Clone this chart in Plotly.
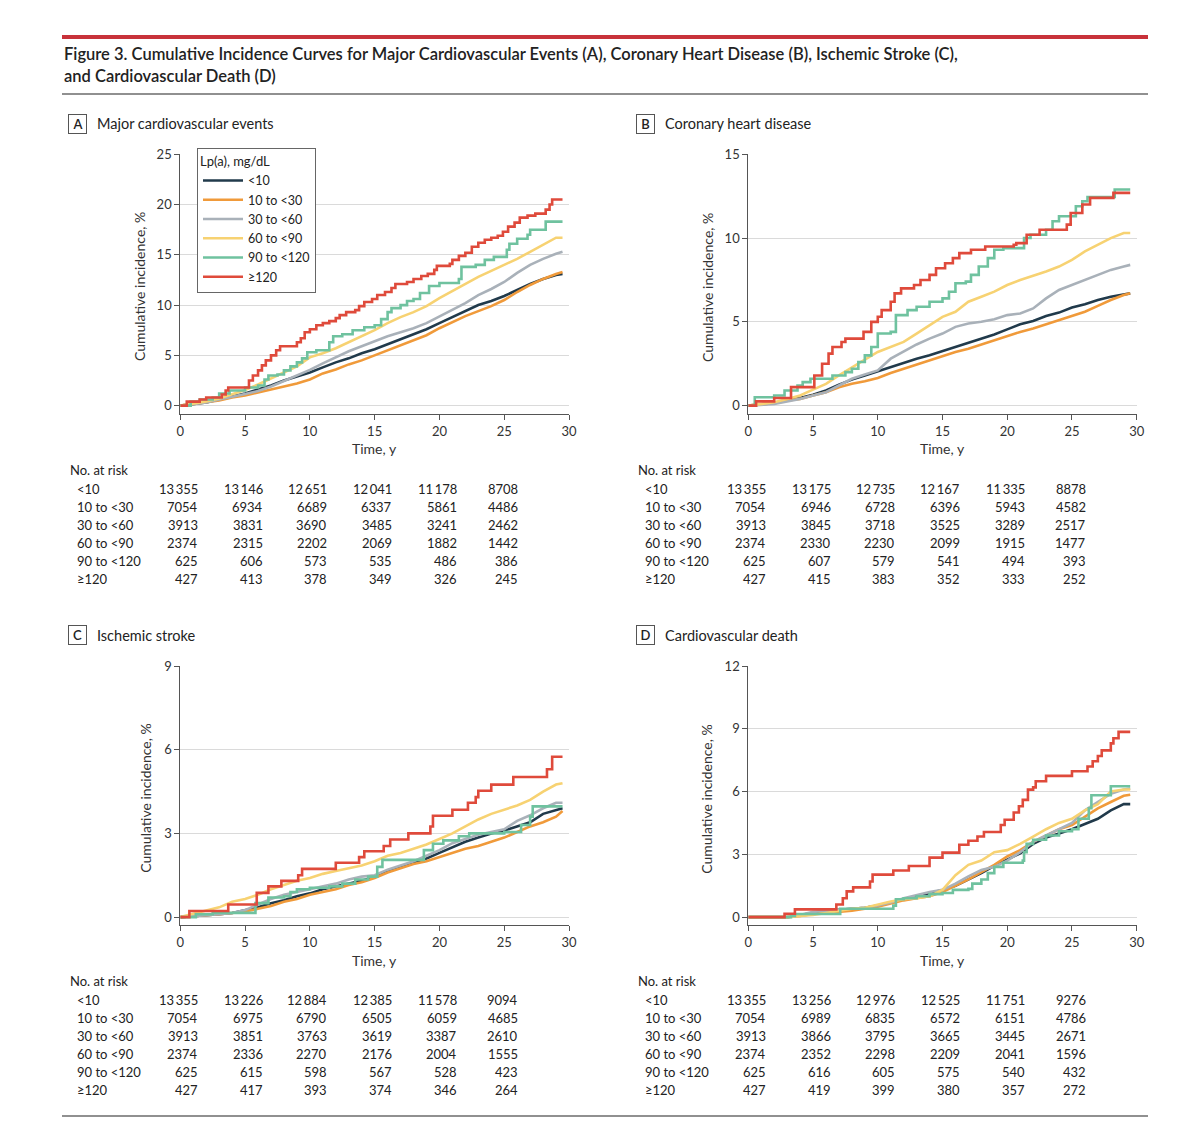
import plotly.graph_objects as go

GROUPS = ["<10", "10 to <30", "30 to <60", "60 to <90", "90 to <120", "≥120"]
COLORS = ["#213a4b", "#f09a3a", "#a9b1b9", "#f7d272", "#6fc29f", "#df4a3b"]

PANEL_LETTERS = ["A", "B", "C", "D"]
PANEL_TITLES = ["Major cardiovascular events", "Coronary heart disease",
                "Ischemic stroke", "Cardiovascular death"]
Y_MAX = [25, 15, 9, 12]
Y_DTICK = [5, 5, 3, 3]

# time grid for the large groups (smooth curves)
GRID_T = [0, 2, 3, 4, 5, 6, 7, 8, 9, 10, 11, 12, 13, 14, 15, 16, 17, 18, 19, 20,
          21, 22, 23, 24, 25, 26, 27, 28, 29, 29.5]

# A - major cardiovascular events
A_LT10 = [0, 0.3, 0.6, 0.9, 1.2, 1.6, 2.0, 2.5, 2.9, 3.3, 3.8, 4.3, 4.7, 5.2, 5.6,
          6.1, 6.6, 7.1, 7.6, 8.2, 8.8, 9.4, 10.0, 10.4, 10.9, 11.5, 12.1, 12.6, 13.0, 13.1]
A_10_30 = [0, 0.3, 0.5, 0.8, 1.0, 1.3, 1.6, 1.9, 2.2, 2.6, 3.2, 3.6, 4.1, 4.5, 5.0,
           5.5, 6.0, 6.5, 7.0, 7.7, 8.3, 8.9, 9.4, 9.9, 10.5, 11.3, 12.0, 12.6, 13.1, 13.3]
A_30_60 = [0, 0.3, 0.6, 0.85, 1.15, 1.45, 1.9, 2.45, 3.0, 3.55, 4.2, 4.8, 5.4, 5.9, 6.4,
           6.9, 7.3, 7.7, 8.2, 8.85, 9.5, 10.2, 11.0, 11.6, 12.3, 13.2, 14.0, 14.6, 15.1, 15.3]
A_60_90 = [0, 0.4, 0.7, 1.1, 1.55, 2.1, 2.7, 3.3, 3.9, 4.8, 5.2, 5.7, 6.3, 6.9, 7.5,
           8.2, 8.8, 9.3, 9.9, 10.7, 11.4, 12.1, 12.8, 13.4, 14.0, 14.6, 15.3, 16.0, 16.7, 16.7]
A_90_120 = [(0, 0), (0.8, 0.4), (1.5, 0.6), (2.5, 0.8), (3.0, 1.2), (3.8, 1.5), (5.0, 1.8),
            (6.0, 2.0), (6.5, 2.6), (6.8, 3.0), (7.5, 3.1), (8.0, 3.5), (8.5, 3.9), (9.0, 4.3),
            (9.4, 4.7), (9.8, 5.3), (10.5, 5.5), (11.5, 6.3), (11.8, 6.9), (12.5, 7.1),
            (13.3, 7.5), (14.2, 7.8), (15.0, 8.0), (15.5, 8.6), (16.0, 9.3), (16.3, 9.7),
            (17.0, 10.0), (17.5, 10.4), (18.0, 10.6), (18.5, 11.2), (19.2, 11.9), (20.0, 12.2),
            (21.5, 12.6), (21.7, 13.8), (22.8, 14.0), (23.5, 14.5), (24.2, 14.8), (25.2, 15.5),
            (25.4, 16.1), (26.0, 16.6), (26.8, 17.0), (27.0, 17.5), (28.2, 18.3), (29.5, 18.3)]
A_GE120 = [(0, 0), (0.5, 0.4), (1.5, 0.6), (2.0, 0.8), (3.2, 1.1), (3.5, 1.5), (3.7, 1.8),
           (5.3, 2.5), (5.6, 3.0), (6.0, 3.5), (6.3, 4.0), (6.6, 4.5), (7.0, 5.0), (7.4, 5.5),
           (7.7, 5.9), (9.0, 6.3), (9.3, 6.7), (9.6, 7.3), (10.0, 7.6), (10.5, 8.0), (11.0, 8.2),
           (11.5, 8.4), (12.0, 8.7), (12.3, 9.0), (12.8, 9.3), (13.5, 9.5), (13.8, 9.9),
           (14.2, 10.3), (14.8, 10.6), (15.2, 11.0), (15.8, 11.3), (16.3, 11.7), (16.6, 12.1),
           (17.5, 12.3), (18.0, 12.6), (18.6, 12.9), (19.1, 13.1), (19.6, 13.5), (19.8, 13.9),
           (20.8, 14.1), (21.0, 14.5), (21.5, 14.9), (22.0, 15.2), (22.5, 15.8), (23.0, 16.2),
           (23.5, 16.5), (24.0, 16.7), (24.5, 16.9), (24.9, 17.3), (25.3, 17.8), (25.8, 18.2),
           (26.2, 18.7), (26.8, 18.9), (27.4, 19.1), (28.2, 19.5), (28.5, 20.0), (28.7, 20.5),
           (29.5, 20.5)]

# B - coronary heart disease
B_LT10 = [0, 0.15, 0.3, 0.45, 0.65, 0.9, 1.25, 1.55, 1.8, 2.05, 2.3, 2.55, 2.8, 3.0, 3.25,
          3.5, 3.75, 4.0, 4.25, 4.55, 4.85, 5.05, 5.35, 5.55, 5.85, 6.05, 6.3, 6.5, 6.65, 6.7]
B_10_30 = [0, 0.15, 0.3, 0.4, 0.6, 0.8, 1.1, 1.3, 1.45, 1.65, 1.95, 2.2, 2.45, 2.7, 2.95,
           3.2, 3.4, 3.65, 3.9, 4.15, 4.4, 4.6, 4.85, 5.1, 5.35, 5.6, 5.95, 6.3, 6.6, 6.7]
B_30_60 = [0, 0.1, 0.25, 0.4, 0.6, 0.8, 1.2, 1.6, 1.85, 2.1, 2.8, 3.25, 3.65, 4.0, 4.3,
           4.7, 4.9, 5.0, 5.15, 5.4, 5.5, 5.8, 6.4, 6.9, 7.2, 7.5, 7.8, 8.1, 8.3, 8.4]
B_60_90 = [0, 0.2, 0.4, 0.6, 0.95, 1.3, 1.8, 2.3, 2.75, 3.2, 3.5, 3.8, 4.3, 4.8, 5.3,
           5.6, 6.2, 6.5, 6.8, 7.2, 7.5, 7.75, 8.0, 8.3, 8.7, 9.2, 9.6, 10.0, 10.3, 10.3]
B_90_120 = [(0, 0), (0.5, 0.5), (2.0, 0.6), (2.8, 0.9), (3.8, 1.2), (4.2, 1.4), (4.8, 1.6),
            (6.5, 1.8), (7.5, 2.0), (8.0, 2.2), (8.5, 2.6), (9.0, 3.0), (9.5, 3.5), (10.0, 4.3),
            (11.0, 4.4), (11.4, 5.4), (12.3, 5.7), (13.0, 5.9), (14.0, 6.2), (15.0, 6.4),
            (15.5, 6.8), (16.0, 7.3), (16.8, 7.4), (17.2, 7.8), (17.8, 8.3), (18.5, 8.8),
            (19.0, 9.3), (19.7, 9.4), (21.3, 10.0), (21.8, 10.2), (23.0, 10.5), (23.5, 11.0),
            (24.0, 11.3), (25.3, 11.9), (25.8, 12.2), (26.2, 12.45), (28.3, 12.9), (29.5, 12.9)]
B_GE120 = [(0, 0), (0.6, 0.25), (2.0, 0.45), (3.3, 1.1), (5.1, 1.8), (5.7, 2.5), (6.2, 3.1),
           (6.5, 3.5), (7.2, 3.8), (7.5, 4.0), (8.9, 4.4), (9.5, 5.0), (10.0, 5.3), (10.3, 5.7),
           (11.0, 6.2), (11.3, 6.7), (11.8, 7.0), (12.8, 7.2), (13.3, 7.5), (14.0, 7.8),
           (14.5, 8.2), (15.2, 8.5), (15.8, 8.8), (16.3, 9.1), (17.2, 9.3), (18.3, 9.5),
           (20.5, 9.6), (20.7, 9.7), (21.5, 10.2), (22.5, 10.5), (24.6, 10.8), (24.9, 11.5),
           (25.8, 12.0), (26.4, 12.4), (28.2, 12.7), (29.5, 12.7)]

# C - ischemic stroke
C_LT10 = [0, 0.05, 0.1, 0.15, 0.25, 0.35, 0.5, 0.6, 0.75, 0.85, 1.0, 1.1, 1.2, 1.3, 1.45,
          1.65, 1.8, 1.95, 2.1, 2.3, 2.5, 2.7, 2.85, 3.0, 3.1, 3.25, 3.4, 3.7, 3.85, 3.9]
C_10_30 = [0, 0.05, 0.1, 0.15, 0.2, 0.3, 0.4, 0.55, 0.65, 0.8, 0.9, 1.0, 1.15, 1.25, 1.4,
           1.6, 1.75, 1.9, 2.0, 2.15, 2.3, 2.45, 2.55, 2.7, 2.85, 3.05, 3.25, 3.4, 3.6, 3.8]
C_30_60 = [0, 0.05, 0.1, 0.15, 0.25, 0.45, 0.65, 0.8, 0.9, 1.0, 1.1, 1.2, 1.35, 1.45, 1.5,
           1.7, 1.85, 2.0, 2.2, 2.4, 2.65, 2.8, 2.95, 3.05, 3.15, 3.45, 3.65, 3.9, 4.1, 4.1]
C_60_90 = [0, 0.25, 0.35, 0.55, 0.65, 0.8, 1.0, 1.15, 1.3, 1.4, 1.55, 1.65, 1.75, 1.85, 2.0,
           2.2, 2.3, 2.45, 2.6, 2.8, 3.0, 3.25, 3.5, 3.7, 3.85, 4.0, 4.2, 4.5, 4.75, 4.8]
C_90_120 = [(0, 0), (1.2, 0.1), (2.5, 0.15), (5.8, 0.5), (6.8, 0.7), (8.0, 0.75), (8.5, 0.9),
            (9.0, 1.0), (10.0, 1.05), (11.5, 1.1), (12.5, 1.2), (13.5, 1.35), (14.5, 1.45),
            (15.2, 1.8), (15.6, 2.05), (18.8, 2.4), (19.5, 2.63), (20.3, 2.75), (21.5, 2.9),
            (22.3, 3.0), (25.0, 3.05), (26.3, 3.3), (27.0, 3.6), (27.2, 3.97), (29.5, 3.97)]
C_GE120 = [(0, 0), (0.7, 0.22), (3.7, 0.45), (5.9, 0.87), (6.8, 1.1), (7.8, 1.3), (9.1, 1.5),
           (9.4, 1.73), (12.0, 1.95), (13.8, 2.15), (14.2, 2.36), (15.7, 2.55), (16.2, 2.78),
           (17.6, 3.0), (19.3, 3.25), (19.5, 3.63), (21.0, 3.85), (22.2, 4.1), (22.8, 4.3),
           (23.0, 4.53), (24.0, 4.75), (25.7, 5.02), (28.3, 5.3), (28.7, 5.75), (29.5, 5.75)]

# D - cardiovascular death
D_LT10 = [0, 0, 0, 0.1, 0.2, 0.3, 0.35, 0.4, 0.45, 0.55, 0.7, 0.85, 1.0, 1.15, 1.3,
          1.5, 1.8, 2.1, 2.45, 2.75, 3.05, 3.5, 3.8, 4.0, 4.2, 4.45, 4.7, 5.1, 5.4, 5.4]
D_10_30 = [0, 0, 0, 0.05, 0.15, 0.2, 0.25, 0.3, 0.4, 0.5, 0.65, 0.8, 0.9, 1.0, 1.2,
           1.5, 1.8, 2.15, 2.5, 2.9, 3.2, 3.6, 3.9, 4.2, 4.4, 4.8, 5.2, 5.5, 5.8, 5.85]
D_30_60 = [0, 0, 0, 0.1, 0.25, 0.3, 0.35, 0.4, 0.45, 0.55, 0.7, 0.9, 1.05, 1.2, 1.3,
           1.6, 1.95, 2.25, 2.4, 2.7, 3.1, 3.6, 3.9, 4.2, 4.5, 5.1, 5.5, 5.9, 6.1, 6.15]
D_60_90 = [0, 0, 0, 0.05, 0.1, 0.2, 0.3, 0.4, 0.45, 0.6, 0.75, 0.85, 0.9, 1.0, 1.3,
           2.0, 2.5, 2.7, 3.1, 3.2, 3.5, 3.85, 4.2, 4.5, 4.7, 5.1, 5.4, 6.0, 6.1, 6.1]
D_90_120 = [(0, 0), (3.3, 0.05), (3.6, 0.15), (7.1, 0.4), (11.2, 0.55), (11.4, 0.85),
            (12.0, 0.9), (13.0, 1.0), (14.0, 1.1), (15.0, 1.15), (15.8, 1.3), (17.0, 1.35),
            (17.3, 1.6), (18.0, 1.8), (18.5, 2.1), (19.0, 2.4), (19.7, 2.6), (21.2, 2.7),
            (21.3, 3.1), (21.5, 3.5), (22.0, 3.7), (23.0, 3.9), (24.0, 4.1), (25.0, 4.2),
            (25.5, 4.7), (26.3, 5.2), (26.5, 5.82), (28.0, 6.25), (29.5, 6.25)]
D_GE120 = [(0, 0), (2.8, 0.16), (3.6, 0.37), (6.8, 0.6), (7.3, 0.9), (7.6, 1.23), (8.1, 1.42),
           (9.4, 1.7), (9.6, 2.03), (11.2, 2.23), (12.4, 2.44), (14.0, 2.84), (15.0, 3.08),
           (16.3, 3.46), (17.0, 3.65), (17.7, 3.85), (18.2, 4.07), (19.5, 4.4), (19.8, 4.65),
           (20.5, 5.0), (20.9, 5.3), (21.2, 5.6), (21.6, 6.09), (22.0, 6.2), (22.2, 6.49),
           (23.0, 6.75), (25.0, 6.97), (26.2, 7.2), (26.6, 7.45), (27.0, 7.7), (27.3, 7.97),
           (28.0, 8.3), (28.2, 8.55), (28.6, 8.85), (29.5, 8.85)]

# No. at risk
RISK_TIMES = [0, 5, 10, 15, 20, 25]
A_RISK = [[13355, 13146, 12651, 12041, 11178, 8708],
          [7054, 6934, 6689, 6337, 5861, 4486],
          [3913, 3831, 3690, 3485, 3241, 2462],
          [2374, 2315, 2202, 2069, 1882, 1442],
          [625, 606, 573, 535, 486, 386],
          [427, 413, 378, 349, 326, 245]]
B_RISK = [[13355, 13175, 12735, 12167, 11335, 8878],
          [7054, 6946, 6728, 6396, 5943, 4582],
          [3913, 3845, 3718, 3525, 3289, 2517],
          [2374, 2330, 2230, 2099, 1915, 1477],
          [625, 607, 579, 541, 494, 393],
          [427, 415, 383, 352, 333, 252]]
C_RISK = [[13355, 13226, 12884, 12385, 11578, 9094],
          [7054, 6975, 6790, 6505, 6059, 4685],
          [3913, 3851, 3763, 3619, 3387, 2610],
          [2374, 2336, 2270, 2176, 2004, 1555],
          [625, 615, 598, 567, 528, 423],
          [427, 417, 393, 374, 346, 264]]
D_RISK = [[13355, 13256, 12976, 12525, 11751, 9276],
          [7054, 6989, 6835, 6572, 6151, 4786],
          [3913, 3866, 3795, 3665, 3445, 2671],
          [2374, 2352, 2298, 2209, 2041, 1596],
          [625, 616, 605, 575, 540, 432],
          [427, 419, 399, 380, 357, 272]]

FONT = "Lato"
W, H = 1200, 1123


def px(x):
    return x / W


def py(y):
    return 1 - y / H


def fmt(n):
    s = str(n)
    if n >= 10000:
        s = s[:-3] + "\u2009" + s[-3:]
    return s


panels = [
    ([A_LT10, A_10_30, A_30_60, A_60_90], [A_90_120, A_GE120], A_RISK),
    ([B_LT10, B_10_30, B_30_60, B_60_90], [B_90_120, B_GE120], B_RISK),
    ([C_LT10, C_10_30, C_30_60, C_60_90], [C_90_120, C_GE120], C_RISK),
    ([D_LT10, D_10_30, D_30_60, D_60_90], [D_90_120, D_GE120], D_RISK),
]

# pixel frames of the four plot areas: (x0, x1, ytop, ybottom)
frames = [(180.3, 569, 154.3, 413.9), (748.3, 1136.7, 154.3, 413.9),
          (180.3, 569, 666, 925.4), (748.3, 1136.7, 666, 925.4)]

fig = go.Figure()
annotations = []
shapes = []
layout = {}

for i, (smooth, steps, risk) in enumerate(panels):
    xa = "x" if i == 0 else f"x{i + 1}"
    ya = "y" if i == 0 else f"y{i + 1}"
    x0, x1, yt, yb = frames[i]
    zero_px = yb - 8.3
    ymin = -Y_MAX[i] * (yb - zero_px) / (zero_px - yt)

    curves = [(GRID_T, v, "linear") for v in smooth]
    curves += [([p[0] for p in s], [p[1] for p in s], "hv") for s in steps]
    for g, (t, v, shape) in enumerate(curves):
        fig.add_trace(go.Scatter(
            x=t, y=v, mode="lines", name=GROUPS[g], xaxis=xa, yaxis=ya,
            line=dict(color=COLORS[g], width=2.6, shape=shape),
            showlegend=(i == 0), hoverinfo="skip"))

    layout["xaxis" if i == 0 else f"xaxis{i + 1}"] = dict(
        domain=[px(x0), px(x1)], anchor=ya, range=[0, 30], tickvals=[0, 5, 10, 15, 20, 25, 30],
        showgrid=False, zeroline=False, showline=True, linecolor="#555", linewidth=1,
        ticks="outside", ticklen=5, tickcolor="#555", tickfont=dict(size=13, color="#333"),
        automargin=False)
    layout["yaxis" if i == 0 else f"yaxis{i + 1}"] = dict(
        domain=[py(yb), py(yt)], anchor=xa, range=[ymin, Y_MAX[i]], dtick=Y_DTICK[i],
        tick0=0, showgrid=True, gridcolor="#dadada", gridwidth=1, zeroline=False,
        showline=True, linecolor="#555", linewidth=1, ticks="outside", ticklen=5,
        tickcolor="#555", tickfont=dict(size=13, color="#333"), automargin=False)

    # panel label
    lx = 68 if i % 2 == 0 else 636
    ly = 124 if i < 2 else 635
    annotations.append(dict(
        text=PANEL_LETTERS[i], x=px(lx + 9.5), y=py(ly), xref="paper", yref="paper",
        showarrow=False, font=dict(size=13, color="#222", weight=600),
        bordercolor="#555", borderwidth=1, borderpad=2, width=13, height=14,
        bgcolor="white", xanchor="center", yanchor="middle"))
    annotations.append(dict(
        text=PANEL_TITLES[i], x=px(lx + 27), y=py(ly), xref="paper", yref="paper",
        showarrow=False, font=dict(size=14.5, color="#222"), xanchor="left", yanchor="middle"))

    # axis titles
    ytx = [139, 707, 146, 707][i]
    annotations.append(dict(
        text="Cumulative incidence, %", x=px(ytx), y=py((yt + yb) / 2 + 3),
        xref="paper", yref="paper", showarrow=False, textangle=-90,
        font=dict(size=14, color="#333"), xanchor="center", yanchor="middle"))
    annotations.append(dict(
        text="Time, y", x=px((x0 + x1) / 2), y=py(yb + 35), xref="paper", yref="paper",
        showarrow=False, font=dict(size=14, color="#333"), xanchor="center", yanchor="middle"))

    # number at risk table
    ty = yb + 56
    annotations.append(dict(
        text="No. at risk", x=px(lx), y=py(ty), xref="paper", yref="paper",
        showarrow=False, font=dict(size=13, color="#222"), xanchor="left", yanchor="middle"))
    for r, row in enumerate(risk):
        ry = ty + 19 + 18 * r
        annotations.append(dict(
            text=GROUPS[r], x=px(lx + 7), y=py(ry), xref="paper", yref="paper",
            showarrow=False, font=dict(size=13, color="#222"), xanchor="left", yanchor="middle"))
        for c, n in enumerate(row):
            widest = max(len(str(rr[c])) for rr in risk)
            annotations.append(dict(
                text=fmt(n), x=RISK_TIMES[c], y=py(ry), xref=xa, yref="paper",
                xshift=3.9 * widest, showarrow=False, font=dict(size=13, color="#222"),
                xanchor="right", yanchor="middle"))

# figure title and rules
annotations.append(dict(
    text="Figure 3. Cumulative Incidence Curves for Major Cardiovascular Events (A), "
         "Coronary Heart Disease (B), Ischemic Stroke (C),",
    x=px(62), y=py(54), xref="paper", yref="paper", showarrow=False, align="left",
    font=dict(size=16.5, color="#222", weight=600), xanchor="left", yanchor="middle"))
annotations.append(dict(
    text="and Cardiovascular Death (D)",
    x=px(62), y=py(76), xref="paper", yref="paper", showarrow=False, align="left",
    font=dict(size=16.5, color="#222", weight=600), xanchor="left", yanchor="middle"))
shapes.append(dict(type="line", xref="paper", yref="paper", x0=px(62), x1=px(1148),
                   y0=py(37), y1=py(37), line=dict(color="#c8323a", width=4)))
shapes.append(dict(type="line", xref="paper", yref="paper", x0=px(62), x1=px(1148),
                   y0=py(94), y1=py(94), line=dict(color="#222", width=1.2)))
shapes.append(dict(type="line", xref="paper", yref="paper", x0=px(62), x1=px(1148),
                   y0=py(1116), y1=py(1116), line=dict(color="#222", width=1.2)))

fig.update_layout(
    width=W, height=H, margin=dict(l=0, r=0, t=0, b=0, pad=0, autoexpand=False),
    paper_bgcolor="white", plot_bgcolor="white",
    font=dict(family=FONT, color="#222"),
    annotations=annotations, shapes=shapes,
    legend=dict(x=px(197), y=py(148), xanchor="left", yanchor="top",
                bordercolor="#666", borderwidth=1, bgcolor="white",
                font=dict(size=12.5, color="#222"), tracegroupgap=0, itemwidth=40,
                title=dict(text="Lp(a), mg/dL", font=dict(size=13, color="#222"))),
    **layout)

fig.write_html("out.html", config={"displayModeBar": False},
               post_script="document.body.style.margin='0px';")
